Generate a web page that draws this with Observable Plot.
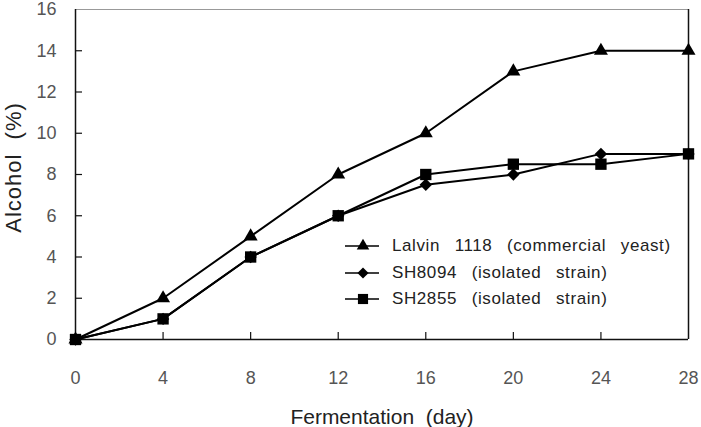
<!DOCTYPE html>
<html>
<head>
<meta charset="utf-8">
<script src="https://cdn.jsdelivr.net/npm/d3@7"></script>
<script src="https://cdn.jsdelivr.net/npm/@observablehq/plot@0.6"></script>
<style>
  html, body { margin: 0; padding: 0; background: #fff; }
  #wrap { position: relative; width: 701px; height: 427px; }
  #wrap svg text { white-space: pre; }
  #legend { position: absolute; left: 343px; top: 233px; font-family: "Liberation Sans", Arial, sans-serif;
            font-size: 17px; color: #222; letter-spacing: 0.6px; word-spacing: 2px; white-space: pre; }
  #legend .row { display: flex; align-items: center; height: 26.5px; }
  #legend svg { margin-right: 11px; }
</style>
</head>
<body>
<div id="wrap"><div id="legend"></div></div>
<script>
// Fermentation time (days)
const days = [0, 4, 8, 12, 16, 20, 24, 28];
// Alcohol content (%) for each yeast
const lalvin = [0, 2, 5, 8, 10, 13, 14, 14];
const sh8094 = [0, 1, 4, 6, 7.5, 8, 9, 9];
const sh2855 = [0, 1, 4, 6, 8, 8.5, 8.5, 9];

const seriesNames = ["Lalvin  1118  (commercial  yeast)", "SH8094  (isolated  strain)", "SH2855  (isolated  strain)"];
const symbols = ["triangle", "diamond2", "square"];
const symbolSizes = [5.2, 5.6, 6.4];
const xTicks = [0, 4, 8, 12, 16, 20, 24, 28];
const yTicks = [0, 2, 4, 6, 8, 10, 12, 14, 16];
const xTitle = "Fermentation  (day)";
const yTitle = "Alcohol  (%)";

const values = [lalvin, sh8094, sh2855];
const rows = values.flatMap((vals, s) => days.map((d, i) => ({day: d, alcohol: vals[i], series: s})));

const W = 701, H = 427, mL = 75, mR = 13, mT = 9, mB = 88;
const frameW = W - mL - mR, frameH = H - mT - mB;
const font = "'Liberation Sans', Arial, sans-serif";

const seriesMarks = [];
for (const s of [0, 1, 2]) {
  const data = rows.filter(r => r.series === s);
  seriesMarks.push(Plot.line(data, {x: "day", y: "alcohol", stroke: "#000", strokeWidth: 2}));
}
for (const s of [0, 1, 2]) {
  const data = rows.filter(r => r.series === s);
  seriesMarks.push(Plot.dot(data, {x: "day", y: "alcohol", symbol: () => symbols[s], r: symbolSizes[s], fill: "#000", stroke: "none"}));
}

const chart = Plot.plot({
  width: W, height: H,
  marginLeft: mL, marginRight: mR, marginTop: mT, marginBottom: mB,
  style: {fontFamily: font, background: "transparent", overflow: "visible"},
  x: {domain: [0, 28]},
  y: {domain: [0, 16]},
  marks: [
    Plot.ruleY([16], {stroke: "#999", strokeWidth: 1.2}),
    Plot.ruleX([28], {stroke: "#111", strokeWidth: 1.5}),
    Plot.ruleX([0], {stroke: "#111", strokeWidth: 1.5}),
    Plot.ruleY([0], {stroke: "#111", strokeWidth: 1.5}),
    // inward tick marks
    Plot.tickX(xTicks.slice(1, -1), {x: d => d, stroke: "#111", strokeWidth: 1.2, insetTop: frameH - 7}),
    Plot.tickY(yTicks.slice(1, -1), {y: d => d, stroke: "#111", strokeWidth: 1.2, insetRight: frameW - 7}),
    Plot.axisX(xTicks, {tickSize: 0, tickPadding: 32, fontSize: 18, fill: "#555", label: null}),
    Plot.axisY(yTicks, {tickSize: 0, tickPadding: 19, fontSize: 18, fill: "#555", label: null}),
    Plot.text([xTitle], {text: d => d, frameAnchor: "bottom", textAnchor: "middle", dy: 78, lineAnchor: "middle",
      fontSize: 21, fill: "#222", style: "letter-spacing: 0.4px"}),
    Plot.text([yTitle], {text: d => d, frameAnchor: "left", textAnchor: "middle", dx: -62, dy: -7, rotate: -90, lineAnchor: "middle",
      fontSize: 22, fill: "#222"}),
    ...seriesMarks
  ]
});
document.getElementById("wrap").prepend(chart);
// letter spacing for the rotated axis title
d3.select(chart).selectAll("text").filter(function() { return this.textContent === yTitle; }).style("letter-spacing", "1px");

// legend
const legend = d3.select("#legend");
seriesNames.forEach((name, s) => {
  const row = legend.append("div").attr("class", "row");
  const svg = row.append("svg").attr("width", 38).attr("height", 16);
  svg.append("line").attr("x1", 2).attr("x2", 36).attr("y1", 8).attr("y2", 8).attr("stroke", "#000").attr("stroke-width", 1.5);
  const sym = {triangle: d3.symbolTriangle, diamond2: d3.symbolDiamond2, square: d3.symbolSquare}[symbols[s]];
  svg.append("path").attr("transform", "translate(20,8)")
    .attr("d", d3.symbol(sym, Math.PI * symbolSizes[s] * symbolSizes[s] * 0.8)()).attr("fill", "#000");
  row.append("span").text(name);
});
</script>
</body>
</html>
